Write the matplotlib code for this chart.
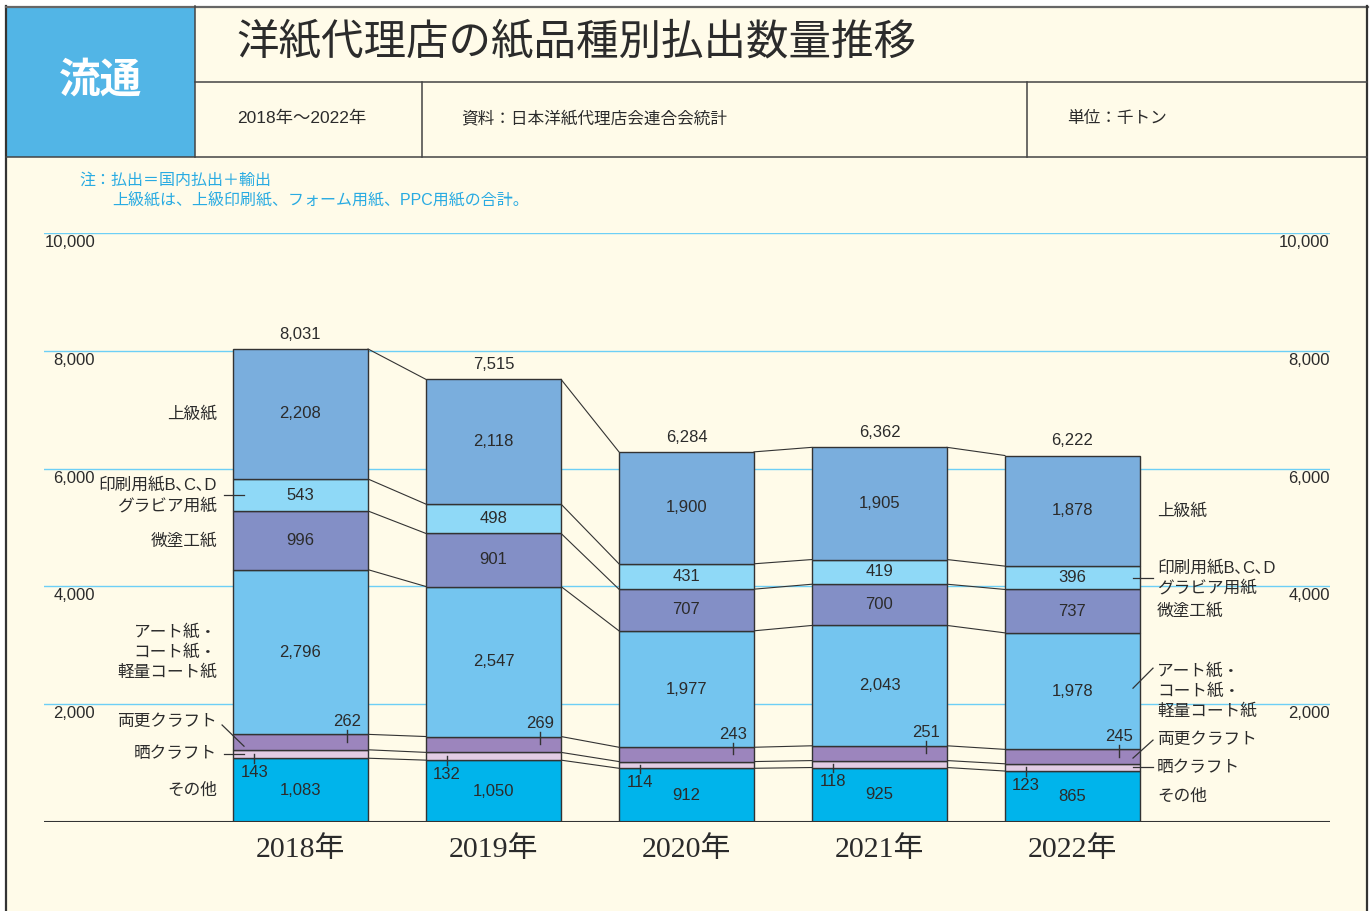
import numpy as np
import matplotlib.pyplot as plt
from matplotlib.patches import Rectangle

plt.rcParams['font.family'] = ['Liberation Sans', 'Noto Sans CJK JP']

years = ['2018年', '2019年', '2020年', '2021年', '2022年']
totals = [8031, 7515, 6284, 6362, 6222]

# bottom -> top
sonota = [1083, 1050, 912, 925, 865]
sarashi = [143, 132, 114, 118, 123]
ryosara = [262, 269, 243, 251, 245]
art = [2796, 2547, 1977, 2043, 1978]
bitoko = [996, 901, 707, 700, 737]
insatsu = [543, 498, 431, 419, 396]
jokyu = [2208, 2118, 1900, 1905, 1878]

series = [sonota, sarashi, ryosara, art, bitoko, insatsu, jokyu]
names = ['その他', '晒クラフト', '両更クラフト', 'アート紙・\nコート紙・\n軽量コート紙',
         '微塗工紙', '印刷用紙B､C､D\nグラビア用紙', '上級紙']
colors = ['#00B4EB', '#E2CCE4', '#9C85BD', '#74C5EF', '#838FC6', '#8FD9F7', '#7AAEDD']

yticks = [2000, 4000, 6000, 8000, 10000]

dark = '#2b2b2b'
cream = '#FFFBE9'

fig = plt.figure(figsize=(13.7, 9.11), dpi=100, facecolor='white')

# header / frame in pixel coords
bg = fig.add_axes([0, 0, 1, 1])
bg.set_xlim(0, 1370)
bg.set_ylim(911, 0)
bg.axis('off')
bg.add_patch(Rectangle((6, 6), 1362, 910, facecolor=cream, edgecolor='none'))
bg.add_patch(Rectangle((7, 7), 188, 150, facecolor='#52B5E6', edgecolor='none'))
bg.plot([6.5, 6.5], [6, 911], color='#333333', lw=1.6)
bg.plot([6, 1368], [6.5, 6.5], color='#666666', lw=1.6)
bg.plot([1367, 1367], [6, 911], color='#333333', lw=1.6)
bg.plot([195, 1367], [82, 82], color='#444444', lw=1.1)
bg.plot([6, 1367], [157, 157], color='#444444', lw=1.1)
bg.plot([195, 195], [6, 157], color='#444444', lw=1.1)
bg.plot([422, 422], [82, 157], color='#444444', lw=1.1)
bg.plot([1027, 1027], [82, 157], color='#444444', lw=1.1)
bg.text(101, 82, '流通', color='white', fontsize=30, fontweight='bold', ha='center', va='center')
bg.text(236, 44, '洋紙代理店の紙品種別払出数量推移', color=dark, fontsize=30.6, ha='left', va='center')
bg.text(237, 118, '2018年～2022年', color=dark, fontsize=12.5, ha='left', va='center')
bg.text(461, 118, '資料：日本洋紙代理店会連合会統計', color=dark, fontsize=12, ha='left', va='center')
bg.text(1067, 118, '単位：千トン', color=dark, fontsize=12, ha='left', va='center')
bg.text(79, 180, '注：払出＝国内払出＋輸出', color='#29ABE2', fontsize=11.5, ha='left', va='center')
bg.text(112, 200, '上級紙は、上級印刷紙、フォーム用紙、PPC用紙の合計。', color='#29ABE2', fontsize=11.5,
        ha='left', va='center')

# main chart
ax = fig.add_axes([44 / 1370, (911 - 822) / 911, (1330 - 44) / 1370, (822 - 233) / 911])
ax.set_facecolor('none')
step = 193.0
ax.set_xlim((44 - 300.5) / step, (1330 - 300.5) / step)
ax.set_ylim(0, 10000)
ax.axis('off')

x = np.arange(len(years))
w = 0.7

for v in yticks:
    ax.axhline(v, color='#6DCFF6', lw=1, zorder=0)
    lab = f'{v:,}'
    ax.text((95 - 44) / 1286, v - 160, lab, transform=ax.get_yaxis_transform(), ha='right', va='center',
            fontsize=12, color=dark)
    ax.text(1.0, v - 160, lab, transform=ax.get_yaxis_transform(), ha='right', va='center',
            fontsize=12, color=dark)
ax.axhline(0, color='#333333', lw=1.5, zorder=3)

bottom = np.zeros(len(years))
bounds = []
for vals, col in zip(series, colors):
    vals = np.array(vals, dtype=float)
    ax.bar(x, vals, bottom=bottom, width=w, color=col, edgecolor='#333333', linewidth=1, zorder=2)
    bounds.append((bottom.copy(), bottom + vals))
    bottom = bottom + vals

# connector lines between bars
for i in range(len(years) - 1):
    for k, (lo, hi) in enumerate(bounds):
        ax.plot([x[i] + w / 2, x[i + 1] - w / 2], [hi[i], hi[i + 1]], color='#333333', lw=0.8, zorder=1)

# value labels
for k, vals in enumerate(series):
    lo, hi = bounds[k]
    for i in range(len(years)):
        if k == 1:
            xx = x[i] - 0.24
            ax.plot([xx, xx], [(lo[i] + hi[i]) / 2, lo[i] - 80], color='#333333', lw=1, zorder=4)
            ax.text(xx, lo[i] - 240, f'{vals[i]:,}', ha='center', va='center', fontsize=12, color=dark, zorder=5)
        elif k == 2:
            xx = x[i] + 0.24
            ax.plot([xx, xx], [hi[i] + 75, (lo[i] + hi[i]) / 2], color='#333333', lw=1, zorder=4)
            ax.text(xx, hi[i] + 220, f'{vals[i]:,}', ha='center', va='center', fontsize=12, color=dark, zorder=5)
        else:
            ax.text(x[i], (lo[i] + hi[i]) / 2, f'{vals[i]:,}', ha='center', va='center', fontsize=12,
                    color=dark, zorder=5)

for i in range(len(years)):
    ax.text(x[i], totals[i] + 250, f'{totals[i]:,}', ha='center', va='center', fontsize=12, color=dark)
    ax.text(x[i], -470, years[i], ha='center', va='center', fontsize=21.5, color=dark,
            family=['Liberation Serif', 'Noto Sans CJK JP'])

# category labels left of first bar and right of last bar
lx_text = (217 - 300.5) / step
lx0, lx1 = (224 - 300.5) / step, (244 - 300.5) / step
rx_text = (1157 - 300.5) / step
rx0, rx1 = (1133 - 300.5) / step, (1153 - 300.5) / step
last = len(years) - 1
for k, name in enumerate(names):
    lo, hi = bounds[k]
    ml = (lo[0] + hi[0]) / 2
    mr = (lo[last] + hi[last]) / 2
    yl, yr = ml, mr
    if k == 2:
        yl, yr = ml + 356, mr + 297
        ax.plot([lx0 - 0.01, lx1], [ml + 290, ml - 70], color='#333333', lw=0.9, zorder=6)
        ax.plot([rx0, rx1], [mr - 25, mr + 280], color='#333333', lw=0.9, zorder=6)
    if k in (1, 5):
        ax.plot([lx0, lx1], [ml, ml], color='#333333', lw=0.9, zorder=6)
        ax.plot([rx0, rx1], [mr, mr], color='#333333', lw=0.9, zorder=6)
    if k == 3:
        ax.plot([rx0, rx1], [mr + 50, mr + 390], color='#333333', lw=0.9, zorder=6)
    ax.text(lx_text, yl, name, ha='right', va='center', fontsize=12, color=dark, linespacing=1.35, zorder=6)
    ax.text(rx_text, yr, name, ha='left', va='center', fontsize=12, color=dark, linespacing=1.35, zorder=6)

fig.savefig('out.png', dpi=100, facecolor='white')
